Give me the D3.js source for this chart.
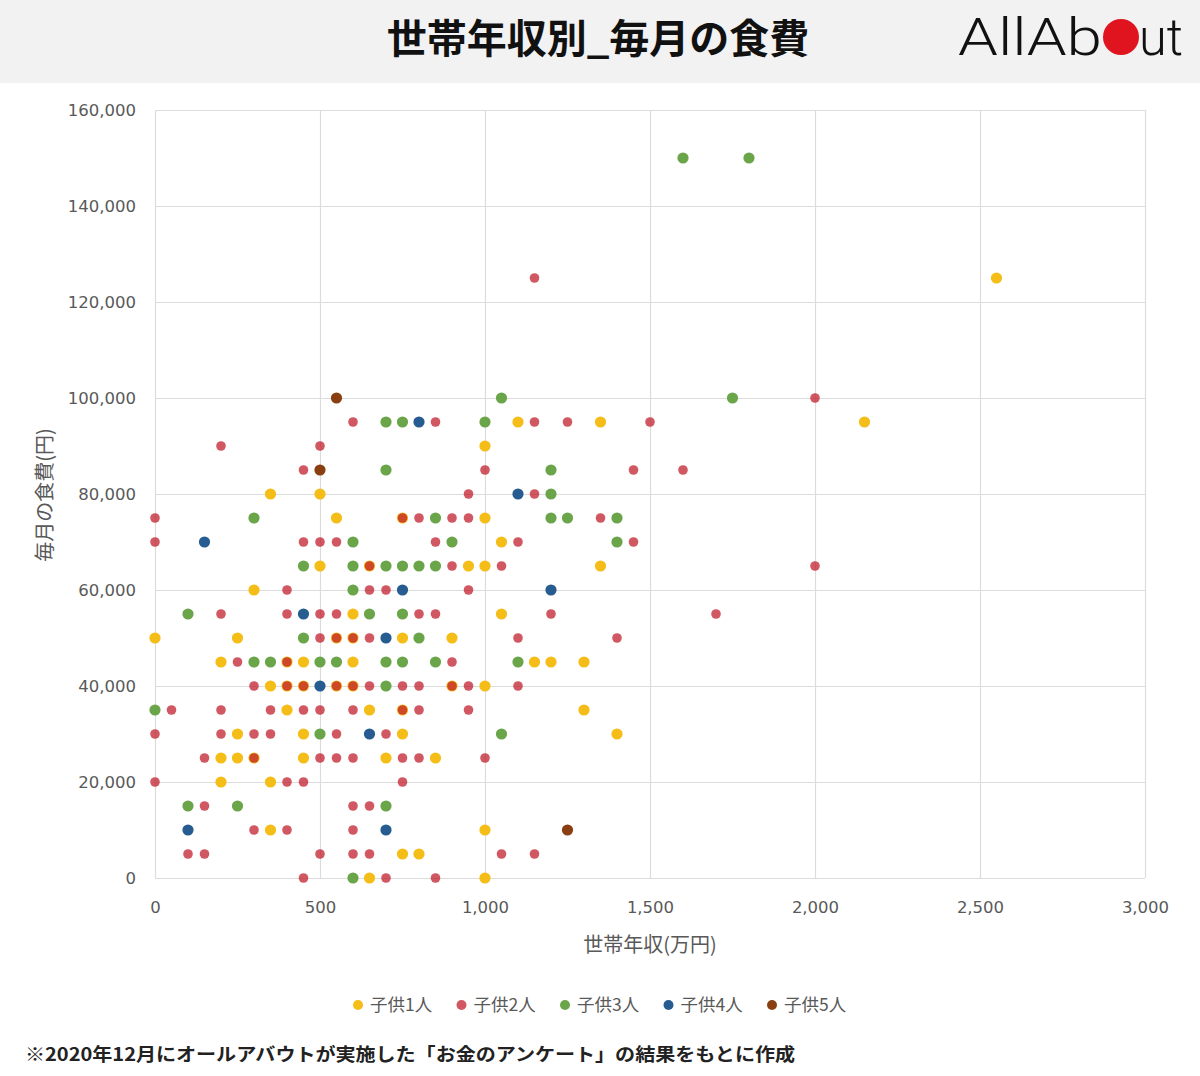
<!DOCTYPE html>
<html>
<head>
<meta charset="utf-8">
<script src="https://cdn.jsdelivr.net/npm/d3@7"></script>
<style>
  body { margin: 0; background: #fff; }
  text { font-family: "Noto Sans CJK JP", "Noto Sans", sans-serif; }
</style>
</head>
<body>
<div id="canvas"></div>
<script>
"use strict"

/* Configuration variables: drawing */
let svgWidth = 1200;
let svgHeight = 1076;
let plotLeft = 155, plotRight = 1145, plotTop = 110, plotBottom = 878;

/* Texts */
let titleText = "世帯年収別_毎月の食費";
let xAxisTitle = "世帯年収(万円)";
let yAxisTitle = "毎月の食費(円)";
let noteText = "※2020年12月にオールアバウトが実施した「お金のアンケート」の結果をもとに作成";

/* Series and ticks */
let seriesNames = ["子供1人", "子供2人", "子供3人", "子供4人", "子供5人"];
let seriesColors = ["#f4bd17", "#c2202e", "#6ba54a", "#265c8f", "#8a3f12"];
let xTicks = [0, 500, 1000, 1500, 2000, 2500, 3000];
let yTicks = [0, 20000, 40000, 60000, 80000, 100000, 120000, 140000, 160000];

/* Data: [世帯年収(万円), 毎月の食費(円)] */
let child1 = [
    [2550, 125000], [1100, 95000], [1350, 95000], [2150, 95000], [1000, 90000],
    [350, 80000], [500, 80000], [550, 75000], [750, 75000], [1000, 75000], [1050, 70000],
    [500, 65000], [650, 65000], [950, 65000], [1000, 65000], [1350, 65000],
    [300, 60000], [600, 55000], [1050, 55000],
    [0, 50000], [250, 50000], [550, 50000], [600, 50000], [750, 50000], [900, 50000],
    [200, 45000], [400, 45000], [450, 45000], [600, 45000], [1150, 45000], [1200, 45000], [1300, 45000],
    [350, 40000], [400, 40000], [450, 40000], [550, 40000], [600, 40000], [900, 40000], [1000, 40000],
    [400, 35000], [650, 35000], [750, 35000], [1300, 35000],
    [250, 30000], [450, 30000], [750, 30000], [1400, 30000],
    [200, 25000], [250, 25000], [300, 25000], [450, 25000], [700, 25000], [850, 25000],
    [200, 20000], [350, 20000], [350, 10000], [1000, 10000],
    [750, 5000], [800, 5000], [650, 0], [1000, 0]
];
let child2 = [
    [1150, 125000], [2000, 100000],
    [600, 95000], [850, 95000], [1150, 95000], [1250, 95000], [1500, 95000],
    [200, 90000], [500, 90000],
    [450, 85000], [1000, 85000], [1450, 85000], [1600, 85000],
    [950, 80000], [1150, 80000],
    [0, 75000], [750, 75000], [800, 75000], [900, 75000], [950, 75000], [1350, 75000],
    [0, 70000], [450, 70000], [500, 70000], [550, 70000], [850, 70000], [1100, 70000], [1450, 70000],
    [650, 65000], [900, 65000], [1050, 65000], [2000, 65000],
    [400, 60000], [650, 60000], [700, 60000], [950, 60000],
    [200, 55000], [400, 55000], [500, 55000], [550, 55000], [800, 55000], [850, 55000], [1200, 55000], [1700, 55000],
    [500, 50000], [550, 50000], [600, 50000], [650, 50000], [1100, 50000], [1400, 50000],
    [250, 45000], [400, 45000], [900, 45000],
    [300, 40000], [400, 40000], [450, 40000], [550, 40000], [600, 40000], [650, 40000],
    [750, 40000], [800, 40000], [900, 40000], [950, 40000], [1100, 40000],
    [50, 35000], [200, 35000], [350, 35000], [450, 35000], [500, 35000], [600, 35000],
    [750, 35000], [800, 35000], [950, 35000],
    [0, 30000], [200, 30000], [300, 30000], [350, 30000], [550, 30000], [700, 30000],
    [150, 25000], [300, 25000], [500, 25000], [550, 25000], [600, 25000], [750, 25000], [800, 25000], [1000, 25000],
    [0, 20000], [400, 20000], [450, 20000], [750, 20000],
    [150, 15000], [600, 15000], [650, 15000],
    [300, 10000], [400, 10000], [600, 10000],
    [100, 5000], [150, 5000], [500, 5000], [600, 5000], [650, 5000], [1050, 5000], [1150, 5000],
    [450, 0], [700, 0], [850, 0]
];
let child3 = [
    [1600, 150000], [1800, 150000], [1050, 100000], [1750, 100000],
    [700, 95000], [750, 95000], [1000, 95000], [700, 85000], [1200, 85000], [1200, 80000],
    [300, 75000], [850, 75000], [1200, 75000], [1250, 75000], [1400, 75000],
    [600, 70000], [900, 70000], [1400, 70000],
    [450, 65000], [600, 65000], [700, 65000], [750, 65000], [800, 65000], [850, 65000],
    [600, 60000], [100, 55000], [650, 55000], [750, 55000],
    [450, 50000], [800, 50000],
    [300, 45000], [350, 45000], [500, 45000], [550, 45000], [700, 45000], [750, 45000], [850, 45000], [1100, 45000],
    [700, 40000], [0, 35000], [500, 30000], [1050, 30000],
    [100, 15000], [250, 15000], [700, 15000], [600, 0]
];
let child4 = [
    [800, 95000], [1100, 80000], [150, 70000], [750, 60000], [1200, 60000],
    [450, 55000], [700, 50000], [500, 40000], [650, 30000], [100, 10000], [700, 10000]
];
let child5 = [
    [550, 100000], [500, 85000], [1250, 10000]
];
let seriesData = [child1, child2, child3, child4, child5];

/* Create drawing canvas */
let svg = d3.select("#canvas")
    .append("svg")
    .attr("width", svgWidth)
    .attr("height", svgHeight);

/* Header band */
svg.append("rect")
    .attr("width", svgWidth)
    .attr("height", 83)
    .attr("fill", "#f2f2f2");

svg.append("text")
    .attr("x", 598)
    .attr("y", 53)
    .attr("text-anchor", "middle")
    .attr("font-size", 40)
    .attr("font-weight", 700)
    .attr("fill", "#111")
    .text(titleText);

/* Logo: All Ab(o)ut */
let logo = svg.append("g");
logo.append("text")
    .attr("x", 958)
    .attr("y", 55)
    .attr("font-size", 52)
    .attr("font-weight", 300)
    .attr("fill", "#111")
    .attr("textLength", 144)
    .attr("lengthAdjust", "spacingAndGlyphs")
    .style("font-family", "Roboto, 'Liberation Sans', sans-serif")
    .text("AllAb");
logo.append("circle")
    .attr("cx", 1121)
    .attr("cy", 37)
    .attr("r", 18)
    .attr("fill", "#e0141e");
logo.append("text")
    .attr("x", 1139)
    .attr("y", 55)
    .attr("font-size", 52)
    .attr("font-weight", 300)
    .attr("fill", "#111")
    .attr("textLength", 44)
    .attr("lengthAdjust", "spacingAndGlyphs")
    .style("font-family", "Roboto, 'Liberation Sans', sans-serif")
    .text("ut");

/* Scales */
let incomeScale = d3.scaleLinear()
    .domain([0, 3000])
    .range([plotLeft, plotRight]);

let foodScale = d3.scaleLinear()
    .domain([0, 160000])
    .range([plotBottom, plotTop]);

/* Axes with gridlines */
let yAxis = svg.append("g")
    .attr("transform", `translate(${plotLeft},0)`)
    .call(d3.axisLeft(foodScale)
        .tickValues(yTicks)
        .tickSize(-(plotRight - plotLeft))
        .tickPadding(19)
        .tickFormat(d3.format(",")));

let xAxis = svg.append("g")
    .attr("transform", `translate(0,${plotBottom})`)
    .call(d3.axisBottom(incomeScale)
        .tickValues(xTicks)
        .tickSize(-(plotBottom - plotTop))
        .tickPadding(23)
        .tickFormat(d3.format(",")));

svg.selectAll(".domain").remove();
svg.selectAll(".tick line")
    .attr("stroke", "#dcdcdc")
    .attr("stroke-width", 1.2);
svg.selectAll(".tick text")
    .attr("font-size", 16.5)
    .attr("fill", "#595959")
    .style("font-family", "'DejaVu Sans', sans-serif");

/* Axis titles */
svg.append("text")
    .attr("x", 650)
    .attr("y", 952)
    .attr("text-anchor", "middle")
    .attr("font-size", 20)
    .attr("fill", "#595959")
    .text(xAxisTitle);

svg.append("text")
    .attr("x", -495)
    .attr("y", 52)
    .attr("text-anchor", "middle")
    .attr("font-size", 20)
    .attr("fill", "#595959")
    .attr("transform", "rotate(-90)")
    .text(yAxisTitle);

/* Points, drawn series by series */
seriesData.forEach(function (points, i) {
    svg.append("g")
        .selectAll("circle")
        .data(points)
        .join("circle")
        .attr("cx", function (d) { return incomeScale(d[0]); })
        .attr("cy", function (d) { return foodScale(d[1]); })
        .attr("r", i === 1 ? 4.8 : 5.6)
        .attr("fill", seriesColors[i])
        .attr("fill-opacity", i === 1 ? 0.75 : 1);
});

/* Legend */
let legend = svg.append("g")
    .selectAll("g")
    .data(seriesNames)
    .join("g")
    .attr("transform", function (d, i) { return `translate(${358 + i * 103.5},1005)`; });

legend.append("circle")
    .attr("r", 5)
    .attr("fill", function (d, i) { return seriesColors[i]; })
    .attr("fill-opacity", function (d, i) { return i === 1 ? 0.75 : 1; });

legend.append("text")
    .attr("x", 12)
    .attr("y", 6)
    .attr("font-size", 17.5)
    .attr("fill", "#595959")
    .text(function (d) { return d; });

/* Footnote */
svg.append("text")
    .attr("x", 25)
    .attr("y", 1061)
    .attr("font-size", 18)
    .attr("font-weight", 700)
    .attr("fill", "#222")
    .attr("textLength", 770)
    .attr("lengthAdjust", "spacingAndGlyphs")
    .text(noteText);
</script>
</body>
</html>
